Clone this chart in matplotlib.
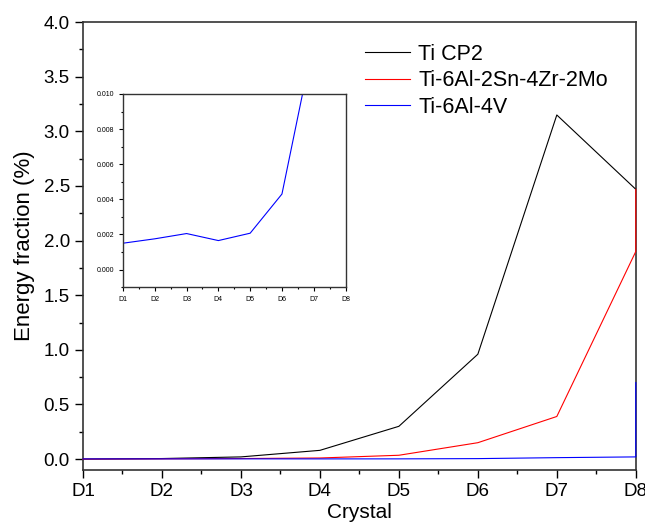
import matplotlib.pyplot as plt
from matplotlib.ticker import MultipleLocator

plt.rcParams['font.family'] = ['Liberation Sans', 'DejaVu Sans']

crystals = ["D1", "D2", "D3", "D4", "D5", "D6", "D7", "D8"]
pos = [1, 2, 3, 4, 5, 6, 7, 8]

ti_cp2 = [0.0, 0.005, 0.02, 0.08, 0.30, 0.96, 3.15, 2.47]
# red and blue series end with a vertical jump at D8
ti_6242_x = pos + [8]
ti_6242 = [0.0, 0.002, 0.005, 0.01, 0.035, 0.15, 0.39, 1.90, 2.47]
ti_64_x = pos + [8]
ti_64 = [0.0015, 0.00175, 0.00205, 0.00165, 0.00207, 0.0043, 0.0131, 0.02, 0.7]

fig = plt.figure(figsize=(6.45, 5.22), dpi=100)
ax = fig.add_axes([0.1287, 0.0996, 0.857, 0.858])

ax.plot(pos, ti_cp2, color='black', lw=0.8, label='Ti CP2', zorder=3)
ax.plot(ti_6242_x, ti_6242, color='red', lw=0.8, label='Ti-6Al-2Sn-4Zr-2Mo',
        zorder=3, clip_on=False)
ax.plot(ti_64_x, ti_64, color='blue', lw=0.8, label='Ti-6Al-4V',
        zorder=3, clip_on=False)

ax.set_xlim(1, 8)
ax.set_ylim(-0.1, 4.0)
ax.set_xticks(pos)
ax.set_xticklabels(crystals)
ax.xaxis.set_minor_locator(MultipleLocator(0.5))
ax.yaxis.set_major_locator(MultipleLocator(0.5))
ax.yaxis.set_minor_locator(MultipleLocator(0.25))
ax.yaxis.set_major_formatter(plt.FormatStrFormatter('%.1f'))
ax.tick_params(which='major', direction='out', length=6, width=1, labelsize=13.5)
ax.tick_params(which='minor', direction='out', length=3, width=1)
for s in ax.spines.values():
    s.set_linewidth(1.2)
    s.set_color('#333333')
ax.set_xlabel('Crystal', fontsize=15, labelpad=2)
ax.set_ylabel('Energy fraction (%)', fontsize=16, labelpad=6)
ax.legend(loc='upper right', frameon=False, fontsize=15.5, handlelength=2.1,
          handletextpad=0.4, labelspacing=0.25, bbox_to_anchor=(0.985, 0.995))

# inset
ins = fig.add_axes([0.1907, 0.450, 0.345, 0.370])
ins.plot(pos, ti_64[:8], color='blue', lw=0.8)
ins.set_xlim(1, 8)
ins.set_ylim(-0.001, 0.010)
ins.set_xticks(pos)
ins.set_xticklabels(crystals)
ins.xaxis.set_minor_locator(MultipleLocator(0.5))
ins.yaxis.set_major_locator(MultipleLocator(0.002))
ins.yaxis.set_minor_locator(MultipleLocator(0.001))
ins.yaxis.set_major_formatter(plt.FormatStrFormatter('%.3f'))
ins.tick_params(which='major', direction='out', length=3, width=0.8, labelsize=5)
ins.tick_params(which='minor', direction='out', length=1.5, width=0.8)
for s in ins.spines.values():
    s.set_linewidth(1.0)
    s.set_color('#333333')

fig.savefig('out.png', dpi=100)
